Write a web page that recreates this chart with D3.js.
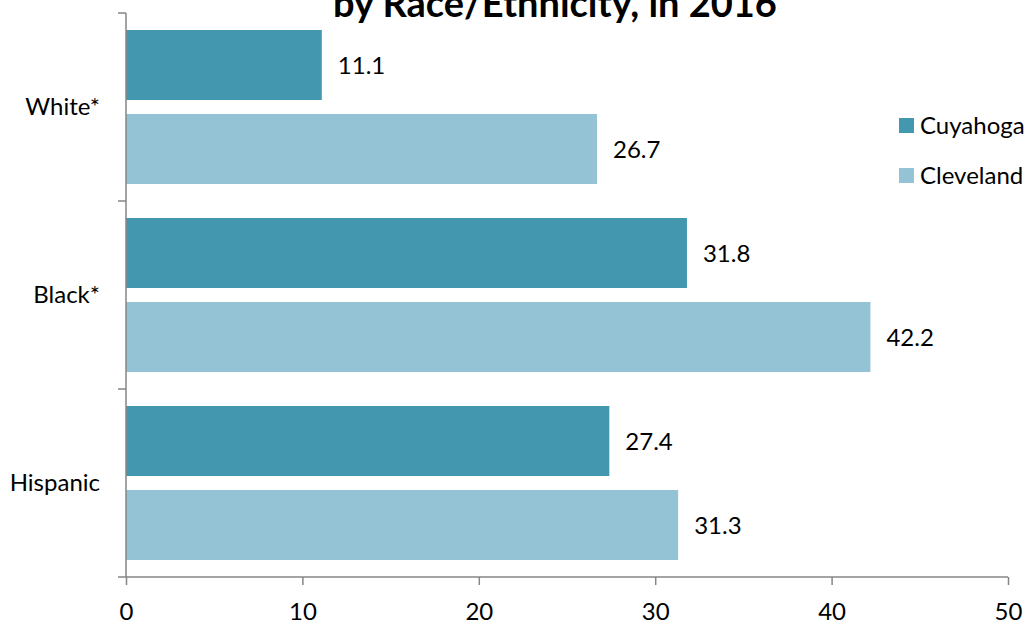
<!DOCTYPE html>
<html>
<head>
<meta charset="utf-8">
<script src="https://cdn.jsdelivr.net/npm/d3@7"></script>
<style>
  body { margin: 0; background: #fff; }
  svg text { font-family: Lato, "Open Sans", sans-serif; fill: #000; }
  .axis path, .axis line { stroke: #868686; stroke-width: 1.5; }
</style>
</head>
<body>
<svg id="chart" width="1029" height="626"></svg>
<script>
// data
var categories = ["White*", "Black*", "Hispanic"];
var seriesNames = ["Cuyahoga", "Cleveland"];
var cuyahoga = [11.1, 31.8, 27.4];
var cleveland = [26.7, 42.2, 31.3];
var xTicks = [0, 10, 20, 30, 40, 50];
var title = "by Race/Ethnicity, in 2016";

var colors = {Cuyahoga: "#4397ae", Cleveland: "#93c3d4"};

var svg = d3.select("#chart"),
    margin = {top: 13, right: 21, bottom: 49, left: 126},
    width = +svg.attr("width") - margin.left - margin.right,
    height = +svg.attr("height") - margin.top - margin.bottom;

var g = svg.append("g")
    .attr("transform", "translate(" + margin.left + "," + margin.top + ")");

var x = d3.scaleLinear().domain([0, 50]).range([0, width]);

var y = d3.scaleBand().domain(categories).range([0, height]);

// two bars inside each band
var y1 = d3.scaleBand()
    .domain(seriesNames)
    .range([17, y.bandwidth() - 17])
    .paddingInner(1 / 6);

var rows = categories.map(function(c, i) {
  return {cat: c, values: [
    {name: "Cuyahoga", value: cuyahoga[i]},
    {name: "Cleveland", value: cleveland[i]}
  ]};
});

var groups = g.selectAll("g.row")
  .data(rows)
  .join("g")
    .attr("class", "row")
    .attr("transform", d => "translate(0," + y(d.cat) + ")");

groups.selectAll("rect")
  .data(d => d.values)
  .join("rect")
    .attr("x", 0)
    .attr("y", d => y1(d.name))
    .attr("width", d => x(d.value))
    .attr("height", y1.bandwidth())
    .attr("fill", d => colors[d.name]);

groups.selectAll("text.val")
  .data(d => d.values)
  .join("text")
    .attr("class", "val")
    .attr("x", d => x(d.value) + 16)
    .attr("y", d => y1(d.name) + y1.bandwidth() / 2)
    .attr("dy", "0.38em")
    .style("font-size", "24px")
    .text(d => d.value.toFixed(1));

// x axis
var xAxis = g.append("g")
    .attr("class", "axis")
    .attr("transform", "translate(0," + height + ")")
    .call(d3.axisBottom(x).tickValues(xTicks).tickSize(8).tickSizeOuter(0).tickPadding(18));
xAxis.select(".domain").attr("d", "M0,0H" + width);
xAxis.selectAll("text").style("font-size", "24px").attr("fill", "#000");

// y axis: labels at band centres, ticks at band edges
var yAxis = g.append("g")
    .attr("class", "axis")
    .call(d3.axisLeft(y).tickSize(0).tickPadding(26));
yAxis.select(".domain").attr("d", "M0,0V" + height);
yAxis.selectAll("text").style("font-size", "24px").attr("fill", "#000");

var edges = categories.map(c => y(c)).concat([height]);
yAxis.selectAll("line.edge")
  .data(edges)
  .join("line")
    .attr("class", "edge")
    .attr("x1", -8).attr("x2", 0)
    .attr("y1", d => d).attr("y2", d => d);

// legend
var legend = svg.append("g")
  .selectAll("g")
  .data(seriesNames)
  .join("g")
    .attr("transform", (d, i) => "translate(899," + (118 + i * 50) + ")");

legend.append("rect")
    .attr("width", 15).attr("height", 15)
    .attr("fill", d => colors[d]);

legend.append("text")
    .attr("x", 21)
    .attr("y", 16)
    .style("font-size", "24px")
    .text(d => d);

// title (first line falls above the picture)
svg.append("text")
    .attr("x", 555)
    .attr("y", 17)
    .attr("text-anchor", "middle")
    .style("font-size", "38px")
    .style("font-weight", "bold")
    .text(title);
</script>
</body>
</html>
